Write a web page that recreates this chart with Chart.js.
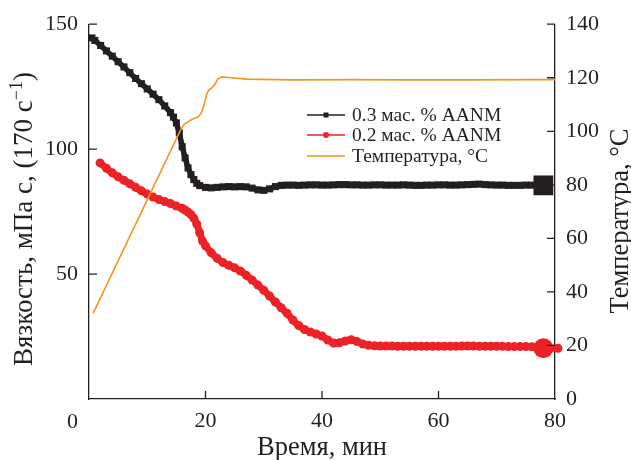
<!DOCTYPE html>
<html>
<head>
<meta charset="utf-8">
<script src="https://cdn.jsdelivr.net/npm/chart.js@4.4.0/dist/chart.umd.min.js"></script>
<style>
  html, body { margin: 0; padding: 0; background: #fff; }
  #wrap { width: 631px; height: 460px; }
</style>
</head>
<body>
<div id="wrap"><canvas id="chart" width="631" height="460"></canvas></div>
<script>
// Tick values
const xTicks = [0, 20, 40, 60, 80];
const leftTicks = [0, 50, 100, 150];
const rightTicks = [0, 20, 40, 60, 80, 100, 120, 140];

// Legend / axis texts
const seriesNames = ["0.3 мас. % AANM", "0.2 мас. % AANM", "Температура, °C"];
const xTitle = "Время, мин";
const leftTitleParts = ["Вязкость, мПа с, (170 с", "−1", ")"]; // middle part is a superscript
const rightTitle = "Температура, °C";

// 0.3 мас. % AANM, viscosity (left axis)
const blackTime = [0.5, 1, 2, 3, 4, 5, 6, 7, 8, 9, 10, 11, 12, 13, 14,
  14.5, 15, 15.5, 16, 16.5, 17, 17.5, 18, 18.5, 19,
  20, 21, 22, 23, 24, 25, 26, 27, 28, 29, 30, 31, 32, 33, 34,
  35, 36, 37, 38, 39, 40, 41, 42, 43, 44, 45, 46, 47, 48, 49, 50, 51, 52, 53, 54,
  55, 56, 57, 58, 59, 60, 61, 62, 63, 64, 65, 66, 67, 68, 69, 70, 71, 72, 73, 74,
  75, 76, 77, 78];
const blackVisc = [144.5, 143.5, 141.5, 139.3, 137.2, 135, 132.9, 130.6, 128.3, 126.2, 124.1, 122, 119.8, 117.3, 114.6,
  112.8, 110.5, 106.5, 101, 96.5, 92.5, 89.8, 87.8, 86.3, 85.4,
  84.7, 84.5, 84.7, 84.9, 85, 84.9, 85, 84.9, 84.4, 83.7, 83.5, 84.1, 85, 85.5, 85.6,
  85.6, 85.5, 85.6, 85.7, 85.7, 85.6, 85.6, 85.7, 85.8, 85.8, 85.7, 85.7, 85.6, 85.6, 85.7, 85.7, 85.6, 85.6, 85.6, 85.7,
  85.6, 85.5, 85.5, 85.6, 85.6, 85.7, 85.7, 85.6, 85.6, 85.7, 85.8, 85.9, 86, 85.8, 85.7, 85.6, 85.6, 85.5, 85.5, 85.5,
  85.6, 85.6, 85.6, 85.5];

// 0.2 мас. % AANM, viscosity (left axis)
const redTime = [1.9, 3, 4, 5, 6, 7, 8, 9, 10, 11, 12, 13, 14, 15, 16,
  16.5, 17, 17.5, 18, 18.5, 19, 19.5,
  20, 21, 22, 23, 24, 25, 26, 27, 28, 29, 30, 31, 32, 33, 34, 35, 36, 37, 38, 39,
  40, 41, 42, 43, 44, 45, 46, 47, 48, 49,
  50, 51, 52, 53, 54, 55, 56, 57, 58, 59, 60, 61, 62, 63, 64, 65, 66, 67, 68, 69,
  70, 71, 72, 73, 74, 75, 76, 77, 78, 80.5];
const redVisc = [94.5, 92.3, 90.5, 88.9, 87.5, 86.1, 84.7, 83.3, 82, 80.8, 79.8, 79, 78.2, 77.2, 76.3,
  75.6, 74.8, 73.8, 72.3, 70, 66.5, 63.2,
  61.3, 58.5, 56.3, 54.6, 53.5, 52.5, 51.2, 49.5, 47.6, 45.6, 43.5, 41.2, 38.8, 36.5, 34.3, 31.6, 29.4, 27.8, 26.8, 26,
  25.2, 23.6, 22.4, 22.5, 23.2, 23.7, 23, 22, 21.5, 21.3,
  21.2, 21.2, 21.2, 21.1, 21.1, 21.1, 21.1, 21.1, 21.1, 21.1, 21.1, 21.1, 21.1, 21.1, 21.2, 21.2, 21.2, 21.1, 21.1, 21.1,
  21.1, 21.1, 21, 21, 21, 21, 20.9, 20.8, 20.3, 20.3];

// Temperature (right axis)
const tempTime = [0.7, 7.5, 15.6, 16.3, 17.3, 18, 18.7, 19.2, 19.6, 20, 20.2, 20.6, 21.1, 21.6, 22.1, 22.8,
  24, 27, 35, 45, 55, 65, 75, 80];
const tempVals = [32, 63, 100, 102.5, 104, 104.8, 105.3, 106.5, 108.7, 112, 113.9, 115.5, 116.2, 117.5, 119.5, 120.3,
  120.1, 119.5, 119.2, 119.3, 119.2, 119.2, 119.3, 119.3];

const INK = "#231f20";
const RED = "#ec2227";
const ORANGE = "#f7941e";
const SERIF = "'Liberation Serif', 'Times New Roman', serif";

const toXY = (xs, ys) => xs.map((x, i) => ({ x: x, y: ys[i] }));

// big marker on the 78 min point of each viscosity curve
const blackRadius = blackTime.map(t => t === 78 ? 14 : 5);
const redRadius = redTime.map(t => t === 78 ? 10 : 4.5);

// inward ticks, axis titles, legend box and the corner "0"
const decorPlugin = {
  id: "decor",
  afterDraw(chart) {
    const ctx = chart.ctx;
    const a = chart.chartArea;
    const sx = chart.scales.x, sl = chart.scales.yL, sr = chart.scales.yR;
    ctx.save();
    ctx.strokeStyle = INK;
    ctx.lineWidth = 1.3;
    ctx.beginPath();
    xTicks.slice(1, -1).forEach(v => {
      const px = sx.getPixelForValue(v);
      ctx.moveTo(px, a.bottom); ctx.lineTo(px, a.bottom - 8);
    });
    leftTicks.slice(1).forEach(v => {
      const py = sl.getPixelForValue(v);
      ctx.moveTo(a.left, py); ctx.lineTo(a.left + 8, py);
    });
    rightTicks.slice(1).forEach(v => {
      const py = sr.getPixelForValue(v);
      ctx.moveTo(a.right, py); ctx.lineTo(a.right - 8, py);
    });
    ctx.stroke();

    ctx.fillStyle = INK;
    ctx.font = "22px " + SERIF;
    ctx.textAlign = "right";
    ctx.textBaseline = "middle";
    ctx.fillText(String(xTicks[0]), a.left - 11, 422);

    // axis titles
    ctx.font = "26.5px " + SERIF;
    ctx.textAlign = "center";
    ctx.textBaseline = "alphabetic";
    ctx.fillText(xTitle, (a.left + a.right) / 2, 455);

    // left title with a raised "−1"
    ctx.save();
    ctx.translate(32, 219);
    ctx.rotate(-Math.PI / 2);
    ctx.textAlign = "left";
    const mainFont = "27px " + SERIF, supFont = "18px " + SERIF;
    ctx.font = mainFont;
    const w0 = ctx.measureText(leftTitleParts[0]).width;
    const w2 = ctx.measureText(leftTitleParts[2]).width;
    ctx.font = supFont;
    const w1 = ctx.measureText(leftTitleParts[1]).width;
    let px = -(w0 + w1 + w2) / 2;
    ctx.font = mainFont;
    ctx.fillText(leftTitleParts[0], px, 0);
    px += w0;
    ctx.font = supFont;
    ctx.fillText(leftTitleParts[1], px, -10);
    px += w1;
    ctx.font = mainFont;
    ctx.fillText(leftTitleParts[2], px, 0);
    ctx.restore();

    ctx.save();
    ctx.translate(628, 221);
    ctx.rotate(-Math.PI / 2);
    ctx.textAlign = "center";
    ctx.font = "26.5px " + SERIF;
    ctx.fillText(rightTitle, 0, 0);
    ctx.restore();

    // legend
    const colors = [INK, RED, ORANGE];
    const rows = [115, 135, 156];
    ctx.font = "19.5px " + SERIF;
    ctx.textAlign = "left";
    ctx.textBaseline = "middle";
    rows.forEach((y, i) => {
      ctx.strokeStyle = colors[i];
      ctx.fillStyle = colors[i];
      ctx.lineWidth = 1.5;
      ctx.beginPath();
      ctx.moveTo(307, y); ctx.lineTo(345, y);
      ctx.stroke();
      if (i === 0) ctx.fillRect(323.5, y - 2.5, 5, 5);
      if (i === 1) { ctx.beginPath(); ctx.arc(326, y, 3, 0, Math.PI * 2); ctx.fill(); }
      ctx.fillStyle = INK;
      ctx.fillText(seriesNames[i], 352, y + 1);
    });
    ctx.restore();
  }
};

new Chart(document.getElementById("chart"), {
  type: "line",
  data: {
    datasets: [
      {
        label: seriesNames[2],
        data: toXY(tempTime, tempVals),
        yAxisID: "yR",
        borderColor: ORANGE,
        borderWidth: 1.6,
        pointRadius: 0,
        tension: 0,
        order: 0
      },
      {
        label: seriesNames[0],
        data: toXY(blackTime, blackVisc),
        yAxisID: "yL",
        borderColor: INK,
        backgroundColor: INK,
        borderWidth: 5.5,
        pointStyle: "rect",
        pointRadius: blackRadius,
        pointBorderWidth: 0,
        tension: 0,
        clip: false,
        order: 1
      },
      {
        label: seriesNames[1],
        data: toXY(redTime, redVisc),
        yAxisID: "yL",
        borderColor: RED,
        backgroundColor: RED,
        borderWidth: 7,
        pointStyle: "circle",
        pointRadius: redRadius,
        pointBorderWidth: 0,
        tension: 0.3,
        clip: false,
        order: 2
      }
    ]
  },
  options: {
    responsive: false,
    animation: false,
    layout: { padding: { top: 23, left: 0, right: 0, bottom: 0 } },
    plugins: { legend: { display: false }, tooltip: { enabled: false } },
    scales: {
      x: {
        type: "linear",
        min: 0, max: 80,
        afterFit: s => { s.height = 61; },
        afterBuildTicks: s => { s.ticks = xTicks.map(v => ({ value: v })); },
        ticks: {
          padding: 9,
          color: INK,
          font: { family: SERIF, size: 22 },
          callback: v => v === 0 ? "" : String(v)
        },
        grid: { drawOnChartArea: false, drawTicks: false },
        border: { display: true, color: INK, width: 1.3 }
      },
      yL: {
        type: "linear",
        position: "left",
        min: 0, max: 150,
        afterFit: s => { s.width = 89; },
        afterBuildTicks: s => { s.ticks = leftTicks.map(v => ({ value: v })); },
        ticks: {
          padding: 11,
          color: INK,
          font: { family: SERIF, size: 22 },
          callback: v => v === 0 ? "" : String(v)
        },
        grid: { drawOnChartArea: false, drawTicks: false },
        border: { display: true, color: INK, width: 1.3 }
      },
      yR: {
        type: "linear",
        position: "right",
        min: 0, max: 140,
        afterFit: s => { s.width = 76; },
        afterBuildTicks: s => { s.ticks = rightTicks.map(v => ({ value: v })); },
        ticks: {
          padding: 11,
          color: INK,
          font: { family: SERIF, size: 22 }
        },
        grid: { drawOnChartArea: false, drawTicks: false },
        border: { display: true, color: INK, width: 1.3 }
      }
    }
  },
  plugins: [decorPlugin]
});
</script>
</body>
</html>
